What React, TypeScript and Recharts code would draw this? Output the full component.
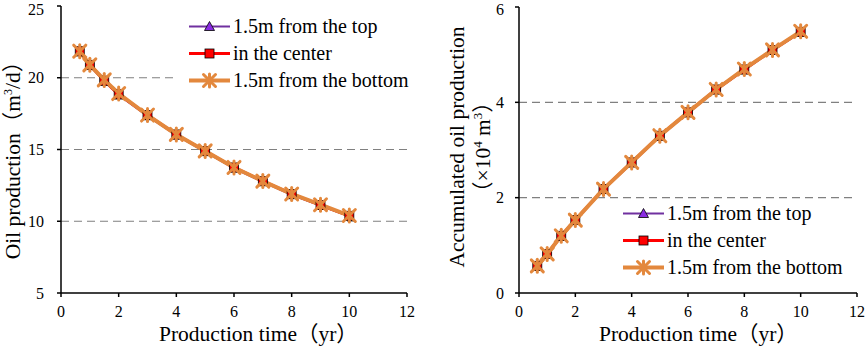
import React from 'react';
import { LineChart, Line, XAxis, YAxis, ReferenceLine, Legend, Label } from 'recharts';

// production time (yr)
const years = [0.65, 1, 1.5, 2, 3, 4, 5, 6, 7, 8, 9, 10];

// daily oil production (m3/d)
const rateTop = [21.8, 20.85, 19.75, 18.8, 17.35, 16.0, 14.85, 13.7, 12.75, 11.85, 11.1, 10.35];
const rateCenter = [21.85, 20.9, 19.8, 18.85, 17.4, 16.05, 14.9, 13.75, 12.8, 11.9, 11.13, 10.38];
const rateBottom = [21.85, 20.9, 19.85, 18.9, 17.4, 16.05, 14.9, 13.75, 12.8, 11.9, 11.15, 10.4];

// accumulated oil production (x10^4 m3)
const cumTop = [0.56, 0.81, 1.19, 1.52, 2.17, 2.73, 3.29, 3.78, 4.26, 4.68, 5.09, 5.47];
const cumCenter = [0.57, 0.82, 1.2, 1.53, 2.18, 2.74, 3.3, 3.79, 4.27, 4.69, 5.1, 5.48];
const cumBottom = [0.57, 0.82, 1.2, 1.53, 2.18, 2.74, 3.3, 3.79, 4.27, 4.7, 5.1, 5.49];

const seriesKeys = ['top', 'center', 'bottom'];
const seriesNames = ['1.5m from the top', 'in the center', '1.5m from the bottom'];
const xTicks = [0, 2, 4, 6, 8, 10, 12];
const rateTicks = [5, 10, 15, 20, 25];
const rateGrid = [10, 15, 20];
const cumTicks = [0, 2, 4, 6];
const cumGrid = [2, 4];

// fullwidth brackets fall through to the CJK font, like the original
const FONT = '"Liberation Serif", "Noto Sans CJK SC", serif';
const PURPLE = '#7030A0';
const RED = '#FF0000';
const ORANGE = '#E3883D';

const rateData = years.map((t, i) => ({ t, top: rateTop[i], center: rateCenter[i], bottom: rateBottom[i] }));
const cumData = years.map((t, i) => ({ t, top: cumTop[i], center: cumCenter[i], bottom: cumBottom[i] }));

const TriangleMark = ({ cx, cy }: { cx: number; cy: number }) => (
  <polygon
    points={`${cx},${cy - 5} ${cx - 5},${cy + 4} ${cx + 5},${cy + 4}`}
    fill="#8A2BE2"
    stroke="#000"
    strokeWidth={0.8}
  />
);

const SquareMark = ({ cx, cy }: { cx: number; cy: number }) => (
  <rect x={cx - 4.5} y={cy - 4.5} width={9} height={9} fill={RED} stroke="#000" strokeWidth={0.8} />
);

const StarMark = ({ cx, cy }: { cx: number; cy: number }) => (
  <g stroke={ORANGE} strokeWidth={3} strokeLinecap="round">
    <line x1={cx - 6} y1={cy - 6} x2={cx + 6} y2={cy + 6} />
    <line x1={cx - 6} y1={cy + 6} x2={cx + 6} y2={cy - 6} />
    <line x1={cx} y1={cy - 6.5} x2={cx} y2={cy + 6.5} />
  </g>
);

const markers: Record<string, (p: { cx: number; cy: number }) => React.ReactElement> = {
  top: TriangleMark,
  center: SquareMark,
  bottom: StarMark,
};
const widths: Record<string, number> = { top: 2.2, center: 3, bottom: 4 };
const colors: Record<string, string> = { top: PURPLE, center: RED, bottom: ORANGE };

// legend drawn as svg so the text uses the same serif face as the axes
const renderLegend = (props: any) => {
  const payload = [...(props.payload || [])].sort(
    (a: any, b: any) => seriesKeys.indexOf(a.dataKey) - seriesKeys.indexOf(b.dataKey)
  );
  return (
    <svg width={232} height={81} style={{ display: 'block' }}>
      <rect x={0} y={0} width={232} height={81} fill="#fff" />
      {payload.map((item: any, i: number) => {
        const key = item.dataKey as string;
        const Mark = markers[key];
        const y = 13.5 + i * 27;
        return (
          <g key={key}>
            <line x1={11} y1={y} x2={52} y2={y} stroke={colors[key]} strokeWidth={widths[key]} />
            <Mark cx={31.5} cy={y} />
            <text x={55} y={y + 6.5} fontSize={20} fontFamily={FONT} fill="#000">
              {item.value}
            </text>
          </g>
        );
      })}
    </svg>
  );
};

const tickStyle = { fontSize: 16, fill: '#000', fontFamily: FONT };
const LABEL_SIZE = 21.5;

const renderLines = () =>
  seriesKeys.map((key, i) => (
    <Line
      key={key}
      dataKey={key}
      name={seriesNames[i]}
      type="linear"
      stroke={colors[key]}
      strokeWidth={widths[key]}
      isAnimationActive={false}
      dot={(p: any) => {
        const Mark = markers[key];
        return <Mark key={`${key}-${p.index}`} cx={p.cx} cy={p.cy} />;
      }}
      activeDot={false}
      legendType="line"
    />
  ));

export default function App() {
  return (
    <div style={{ position: 'absolute', left: 0, top: 0, width: 865, height: 347, background: '#fff', fontFamily: FONT }}>
      <div style={{ position: 'absolute', left: 0, top: 0 }}>
        <LineChart width={430} height={347} data={rateData} margin={{ top: 6, right: 23, bottom: 0, left: 0 }}>
          {rateGrid.map((v) => (
            <ReferenceLine key={v} y={v} stroke="#808080" strokeWidth={1.2} strokeDasharray="8 5" />
          ))}
          <XAxis
            dataKey="t"
            type="number"
            domain={[0, 12]}
            ticks={xTicks}
            height={54}
            tick={tickStyle}
            tickSize={4}
            tickMargin={9}
            stroke="#000"
            strokeWidth={1.5}
          >
            <Label
              content={() => (
                <text x={159} y={341} fontSize={LABEL_SIZE} fontFamily={FONT} fill="#000">
                  Production time（yr）
                </text>
              )}
            />
          </XAxis>
          <YAxis
            type="number"
            domain={[5, 25]}
            ticks={rateTicks}
            width={61}
            tick={tickStyle}
            tickSize={4}
            tickMargin={13}
            stroke="#000"
            strokeWidth={1.5}
          >
            <Label
              content={() => (
                <text x={20} y={155} transform="rotate(-90 20 155)" textAnchor="middle" fontSize={LABEL_SIZE} fontFamily={FONT} fill="#000">
                  Oil production（m<tspan fontSize={12} dy={-8}>3</tspan>
                  <tspan dy={8}>/d）</tspan>
                </text>
              )}
            />
          </YAxis>
          {renderLines()}
          <Legend
            layout="vertical"
            align="center"
            verticalAlign="middle"
            content={renderLegend}
            wrapperStyle={{ left: 178, top: 12.5, width: 'auto' }}
          />
        </LineChart>
      </div>
      <div style={{ position: 'absolute', left: 430, top: 0 }}>
        <LineChart width={435} height={347} data={cumData} margin={{ top: 7, right: 8, bottom: 0, left: 0 }}>
          {cumGrid.map((v) => (
            <ReferenceLine key={v} y={v} stroke="#808080" strokeWidth={1.2} strokeDasharray="8 5" />
          ))}
          <XAxis
            dataKey="t"
            type="number"
            domain={[0, 12]}
            ticks={xTicks}
            height={54}
            tick={tickStyle}
            tickSize={4}
            tickMargin={9}
            stroke="#000"
            strokeWidth={1.5}
          >
            <Label
              content={() => (
                <text x={169} y={341} fontSize={LABEL_SIZE} fontFamily={FONT} fill="#000">
                  Production time（yr）
                </text>
              )}
            />
          </XAxis>
          <YAxis
            type="number"
            domain={[0, 6]}
            ticks={cumTicks}
            width={89}
            tick={tickStyle}
            tickSize={4}
            tickMargin={11}
            stroke="#000"
            strokeWidth={1.5}
          >
            <Label
              content={() => (
                <g fontSize={LABEL_SIZE} fontFamily={FONT} fill="#000">
                  <text x={34} y={147} transform="rotate(-90 34 147)" textAnchor="middle">
                    Accumulated oil production
                  </text>
                  <text x={60} y={147} transform="rotate(-90 60 147)" textAnchor="middle">
                    （×10<tspan fontSize={13} dy={-8}>4</tspan>
                    <tspan dy={8}> m</tspan>
                    <tspan fontSize={13} dy={-8}>3</tspan>
                    <tspan dy={8}>）</tspan>
                  </text>
                </g>
              )}
            />
          </YAxis>
          {renderLines()}
          <Legend
            layout="vertical"
            align="center"
            verticalAlign="middle"
            content={renderLegend}
            wrapperStyle={{ left: 182, top: 199.5, width: 'auto' }}
          />
        </LineChart>
      </div>
    </div>
  );
}
